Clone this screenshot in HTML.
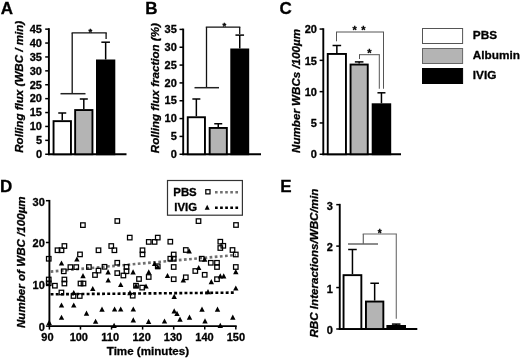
<!DOCTYPE html>
<html><head><meta charset="utf-8"><title>Figure</title>
<style>
html,body{margin:0;padding:0;background:#fff;}
svg{display:block;will-change:transform;}
text{font-family:"Liberation Sans",sans-serif;fill:#000;stroke:#000;stroke-width:0.3px;}
</style></head>
<body>
<svg width="520" height="359" viewBox="0 0 520 359">
<rect x="0" y="0" width="520" height="359" fill="#fff"/>
<text x="0.8" y="13.8" font-size="17" font-weight="bold" text-anchor="start" style="">A</text>
<line x1="48.9" y1="28.2" x2="48.9" y2="155.15" stroke="#000" stroke-width="1.9" />
<line x1="47.949999999999996" y1="154.25" x2="126.5" y2="154.25" stroke="#000" stroke-width="1.9" />
<line x1="45.199999999999996" y1="154.25" x2="48.9" y2="154.25" stroke="#000" stroke-width="1.5" />
<text x="42.0" y="158.05" font-size="11" font-weight="bold" text-anchor="end" style="">0</text>
<line x1="45.199999999999996" y1="140.35" x2="48.9" y2="140.35" stroke="#000" stroke-width="1.5" />
<text x="42.0" y="144.15" font-size="11" font-weight="bold" text-anchor="end" style="">5</text>
<line x1="45.199999999999996" y1="126.45" x2="48.9" y2="126.45" stroke="#000" stroke-width="1.5" />
<text x="42.0" y="130.25" font-size="11" font-weight="bold" text-anchor="end" style="">10</text>
<line x1="45.199999999999996" y1="112.55000000000001" x2="48.9" y2="112.55000000000001" stroke="#000" stroke-width="1.5" />
<text x="42.0" y="116.35000000000002" font-size="11" font-weight="bold" text-anchor="end" style="">15</text>
<line x1="45.199999999999996" y1="98.65" x2="48.9" y2="98.65" stroke="#000" stroke-width="1.5" />
<text x="42.0" y="102.45000000000002" font-size="11" font-weight="bold" text-anchor="end" style="">20</text>
<line x1="45.199999999999996" y1="84.75" x2="48.9" y2="84.75" stroke="#000" stroke-width="1.5" />
<text x="42.0" y="88.55000000000001" font-size="11" font-weight="bold" text-anchor="end" style="">25</text>
<line x1="45.199999999999996" y1="70.85000000000001" x2="48.9" y2="70.85000000000001" stroke="#000" stroke-width="1.5" />
<text x="42.0" y="74.65000000000002" font-size="11" font-weight="bold" text-anchor="end" style="">30</text>
<line x1="45.199999999999996" y1="56.95" x2="48.9" y2="56.95" stroke="#000" stroke-width="1.5" />
<text x="42.0" y="60.75" font-size="11" font-weight="bold" text-anchor="end" style="">35</text>
<line x1="45.199999999999996" y1="43.05000000000001" x2="48.9" y2="43.05000000000001" stroke="#000" stroke-width="1.5" />
<text x="42.0" y="46.85000000000001" font-size="11" font-weight="bold" text-anchor="end" style="">40</text>
<line x1="45.199999999999996" y1="29.150000000000006" x2="48.9" y2="29.150000000000006" stroke="#000" stroke-width="1.5" />
<text x="42.0" y="32.95" font-size="11" font-weight="bold" text-anchor="end" style="">45</text>
<line x1="62.25" y1="120.2" x2="62.25" y2="113" stroke="#000" stroke-width="1.5" />
<line x1="58.25" y1="113" x2="66.25" y2="113" stroke="#000" stroke-width="1.5" />
<rect x="53.550000000000004" y="121.15" width="17.4" height="33.1" fill="#fff" stroke="#000" stroke-width="1.9"/>
<line x1="83.80000000000001" y1="109.1" x2="83.80000000000001" y2="99" stroke="#000" stroke-width="1.5" />
<line x1="79.80000000000001" y1="99" x2="87.80000000000001" y2="99" stroke="#000" stroke-width="1.5" />
<rect x="75.15" y="110.05" width="17.3" height="44.2" fill="#b4b4b4" stroke="#000" stroke-width="1.9"/>
<line x1="105.65" y1="59.5" x2="105.65" y2="42.2" stroke="#000" stroke-width="1.5" />
<line x1="101.35000000000001" y1="42.2" x2="109.95" y2="42.2" stroke="#000" stroke-width="1.5" />
<rect x="96.95" y="60.45" width="17.4" height="93.8" fill="#000" stroke="#000" stroke-width="1.9"/>
<line x1="71.6" y1="32.9" x2="106.8" y2="32.9" stroke="#111" stroke-width="1.4" />
<line x1="72.2" y1="32.9" x2="72.2" y2="93.7" stroke="#111" stroke-width="1.3" />
<line x1="106.1" y1="32.9" x2="106.1" y2="39" stroke="#111" stroke-width="1.3" />
<line x1="60.5" y1="93.7" x2="85.5" y2="93.7" stroke="#222" stroke-width="1.5" />
<text x="90.3" y="35" font-size="9.5" font-weight="bold" text-anchor="middle" style="">*</text>
<text x="23" y="152.8" font-size="11.6" font-weight="bold" text-anchor="start" transform="rotate(-90 23 152.8)" style="font-style:italic">Rolling flux (WBC / min)</text>
<text x="145.3" y="13.6" font-size="17" font-weight="bold" text-anchor="start" style="">B</text>
<line x1="183.2" y1="28.599999999999998" x2="183.2" y2="155.15" stroke="#000" stroke-width="1.9" />
<line x1="182.25" y1="154.25" x2="261" y2="154.25" stroke="#000" stroke-width="1.9" />
<line x1="179.5" y1="154.25" x2="183.2" y2="154.25" stroke="#000" stroke-width="1.5" />
<text x="176.85" y="157.85" font-size="11" font-weight="bold" text-anchor="end" style="">0</text>
<line x1="179.5" y1="136.415" x2="183.2" y2="136.415" stroke="#000" stroke-width="1.5" />
<text x="176.85" y="140.015" font-size="11" font-weight="bold" text-anchor="end" style="">5</text>
<line x1="179.5" y1="118.58" x2="183.2" y2="118.58" stroke="#000" stroke-width="1.5" />
<text x="176.85" y="122.18" font-size="11" font-weight="bold" text-anchor="end" style="">10</text>
<line x1="179.5" y1="100.745" x2="183.2" y2="100.745" stroke="#000" stroke-width="1.5" />
<text x="176.85" y="104.34500000000001" font-size="11" font-weight="bold" text-anchor="end" style="">15</text>
<line x1="179.5" y1="82.91" x2="183.2" y2="82.91" stroke="#000" stroke-width="1.5" />
<text x="176.85" y="86.51" font-size="11" font-weight="bold" text-anchor="end" style="">20</text>
<line x1="179.5" y1="65.07499999999999" x2="183.2" y2="65.07499999999999" stroke="#000" stroke-width="1.5" />
<text x="176.85" y="68.675" font-size="11" font-weight="bold" text-anchor="end" style="">25</text>
<line x1="179.5" y1="47.239999999999995" x2="183.2" y2="47.239999999999995" stroke="#000" stroke-width="1.5" />
<text x="176.85" y="50.839999999999996" font-size="11" font-weight="bold" text-anchor="end" style="">30</text>
<line x1="179.5" y1="29.405" x2="183.2" y2="29.405" stroke="#000" stroke-width="1.5" />
<text x="176.85" y="33.005" font-size="11" font-weight="bold" text-anchor="end" style="">35</text>
<line x1="196.35000000000002" y1="116.3" x2="196.35000000000002" y2="99" stroke="#000" stroke-width="1.5" />
<line x1="192.35000000000002" y1="99" x2="200.35000000000002" y2="99" stroke="#000" stroke-width="1.5" />
<rect x="187.75" y="117.25" width="17.2" height="37.0" fill="#fff" stroke="#000" stroke-width="1.9"/>
<line x1="218.25" y1="127" x2="218.25" y2="123.75" stroke="#000" stroke-width="1.5" />
<line x1="214.25" y1="123.75" x2="222.25" y2="123.75" stroke="#000" stroke-width="1.5" />
<rect x="209.64999999999998" y="127.95" width="17.2" height="26.3" fill="#b4b4b4" stroke="#000" stroke-width="1.9"/>
<line x1="239.75" y1="48.5" x2="239.75" y2="35.1" stroke="#000" stroke-width="1.5" />
<line x1="235.45" y1="35.1" x2="244.05" y2="35.1" stroke="#000" stroke-width="1.5" />
<rect x="231.25" y="49.45" width="17.0" height="104.8" fill="#000" stroke="#000" stroke-width="1.9"/>
<line x1="205.8" y1="27.1" x2="240.3" y2="27.1" stroke="#111" stroke-width="1.4" />
<line x1="206.5" y1="27.1" x2="206.5" y2="87.7" stroke="#111" stroke-width="1.3" />
<line x1="239.7" y1="27.1" x2="239.7" y2="34" stroke="#111" stroke-width="1.3" />
<line x1="194.5" y1="87.7" x2="219" y2="87.7" stroke="#222" stroke-width="1.5" />
<text x="224.3" y="29.3" font-size="9.5" font-weight="bold" text-anchor="middle" style="">*</text>
<text x="159" y="153.2" font-size="11.6" font-weight="bold" text-anchor="start" transform="rotate(-90 159 153.2)" style="font-style:italic">Rolling flux fraction (%)</text>
<text x="279.6" y="14" font-size="17" font-weight="bold" text-anchor="start" style="">C</text>
<line x1="323.3" y1="28.25" x2="323.3" y2="155.15" stroke="#000" stroke-width="1.9" />
<line x1="322.35" y1="154.25" x2="401" y2="154.25" stroke="#000" stroke-width="1.9" />
<line x1="319.6" y1="154.25" x2="323.3" y2="154.25" stroke="#000" stroke-width="1.5" />
<text x="316.95000000000005" y="158.45000000000002" font-size="11" font-weight="bold" text-anchor="end" style="">0</text>
<line x1="319.6" y1="122.95" x2="323.3" y2="122.95" stroke="#000" stroke-width="1.5" />
<text x="316.95000000000005" y="127.15" font-size="11" font-weight="bold" text-anchor="end" style="">5</text>
<line x1="319.6" y1="91.65" x2="323.3" y2="91.65" stroke="#000" stroke-width="1.5" />
<text x="316.95000000000005" y="95.85000000000001" font-size="11" font-weight="bold" text-anchor="end" style="">10</text>
<line x1="319.6" y1="60.35000000000001" x2="323.3" y2="60.35000000000001" stroke="#000" stroke-width="1.5" />
<text x="316.95000000000005" y="64.55000000000001" font-size="11" font-weight="bold" text-anchor="end" style="">15</text>
<line x1="319.6" y1="29.05000000000001" x2="323.3" y2="29.05000000000001" stroke="#000" stroke-width="1.5" />
<text x="316.95000000000005" y="33.25000000000001" font-size="11" font-weight="bold" text-anchor="end" style="">20</text>
<line x1="336.85" y1="53" x2="336.85" y2="45.5" stroke="#000" stroke-width="1.5" />
<line x1="332.55" y1="45.5" x2="341.15000000000003" y2="45.5" stroke="#000" stroke-width="1.5" />
<rect x="327.75" y="53.95" width="18.2" height="100.3" fill="#fff" stroke="#000" stroke-width="1.9"/>
<line x1="359.15" y1="63.6" x2="359.15" y2="61.9" stroke="#000" stroke-width="1.5" />
<line x1="354.84999999999997" y1="61.9" x2="363.45" y2="61.9" stroke="#000" stroke-width="1.5" />
<rect x="350.55" y="64.55" width="17.2" height="89.7" fill="#b4b4b4" stroke="#000" stroke-width="1.9"/>
<line x1="381.45" y1="103.3" x2="381.45" y2="92.8" stroke="#000" stroke-width="1.5" />
<line x1="377.45" y1="92.8" x2="385.45" y2="92.8" stroke="#000" stroke-width="1.5" />
<rect x="372.65" y="104.25" width="17.6" height="50.0" fill="#000" stroke="#000" stroke-width="1.9"/>
<line x1="336" y1="32" x2="384" y2="32" stroke="#555" stroke-width="1" />
<line x1="336.5" y1="32" x2="336.5" y2="41.3" stroke="#555" stroke-width="1" />
<line x1="383.5" y1="32" x2="383.5" y2="88.75" stroke="#555" stroke-width="1" />
<line x1="359" y1="54.7" x2="379.8" y2="54.7" stroke="#555" stroke-width="1" />
<line x1="359.5" y1="54.7" x2="359.5" y2="59" stroke="#555" stroke-width="1" />
<line x1="379.3" y1="54.7" x2="379.3" y2="88.75" stroke="#555" stroke-width="1" />
<text x="354.7" y="34.3" font-size="11" font-weight="bold" text-anchor="middle" style="">*</text>
<text x="363.3" y="34.3" font-size="11" font-weight="bold" text-anchor="middle" style="">*</text>
<text x="369.5" y="56.8" font-size="11" font-weight="bold" text-anchor="middle" style="">*</text>
<text x="299.8" y="152.9" font-size="11.6" font-weight="bold" text-anchor="start" transform="rotate(-90 299.8 152.9)" style="font-style:italic">Number WBCs /100µm</text>
<rect x="422.5" y="28.5" width="40.1" height="15.0" fill="#fff" stroke="#555" stroke-width="1"/>
<rect x="422.5" y="48.5" width="40.1" height="15.0" fill="#b4b4b4" stroke="#666" stroke-width="1"/>
<rect x="422.5" y="68.5" width="40.1" height="15.0" fill="#000" stroke="#000" stroke-width="1"/>
<text x="472.8" y="39.4" font-size="11.8" font-weight="bold" text-anchor="start" style="">PBS</text>
<text x="472.8" y="59.4" font-size="11.8" font-weight="bold" text-anchor="start" style="">Albumin</text>
<text x="472.8" y="79.4" font-size="11.8" font-weight="bold" text-anchor="start" style="">IVIG</text>
<text x="0" y="191.6" font-size="17" font-weight="bold" text-anchor="start" style="">D</text>
<line x1="49.4" y1="199.90000000000003" x2="49.4" y2="327.0" stroke="#000" stroke-width="1.9" />
<line x1="48.449999999999996" y1="326.1" x2="236.7" y2="326.1" stroke="#000" stroke-width="1.9" />
<line x1="45.9" y1="326.1" x2="49.4" y2="326.1" stroke="#000" stroke-width="1.5" />
<text x="44.8" y="330.95000000000005" font-size="11" font-weight="bold" text-anchor="end" style="">0</text>
<line x1="45.9" y1="284.3" x2="49.4" y2="284.3" stroke="#000" stroke-width="1.5" />
<text x="44.8" y="289.15000000000003" font-size="11" font-weight="bold" text-anchor="end" style="">10</text>
<line x1="45.9" y1="242.50000000000003" x2="49.4" y2="242.50000000000003" stroke="#000" stroke-width="1.5" />
<text x="44.8" y="247.35000000000002" font-size="11" font-weight="bold" text-anchor="end" style="">20</text>
<line x1="45.9" y1="200.70000000000005" x2="49.4" y2="200.70000000000005" stroke="#000" stroke-width="1.5" />
<text x="44.8" y="205.55000000000004" font-size="11" font-weight="bold" text-anchor="end" style="">30</text>
<line x1="49.4" y1="326.1" x2="49.4" y2="329.6" stroke="#000" stroke-width="1.5" />
<text x="47.4" y="341.3" font-size="11" font-weight="bold" text-anchor="middle" style="">90</text>
<line x1="80.47" y1="326.1" x2="80.47" y2="329.6" stroke="#000" stroke-width="1.5" />
<text x="78.81" y="341.3" font-size="11" font-weight="bold" text-anchor="middle" style="">100</text>
<line x1="111.53999999999999" y1="326.1" x2="111.53999999999999" y2="329.6" stroke="#000" stroke-width="1.5" />
<text x="110.22" y="341.3" font-size="11" font-weight="bold" text-anchor="middle" style="">110</text>
<line x1="142.61" y1="326.1" x2="142.61" y2="329.6" stroke="#000" stroke-width="1.5" />
<text x="141.63000000000002" y="341.3" font-size="11" font-weight="bold" text-anchor="middle" style="">120</text>
<line x1="173.68" y1="326.1" x2="173.68" y2="329.6" stroke="#000" stroke-width="1.5" />
<text x="173.04000000000002" y="341.3" font-size="11" font-weight="bold" text-anchor="middle" style="">130</text>
<line x1="204.75000000000003" y1="326.1" x2="204.75000000000003" y2="329.6" stroke="#000" stroke-width="1.5" />
<text x="204.45000000000002" y="341.3" font-size="11" font-weight="bold" text-anchor="middle" style="">140</text>
<line x1="235.82000000000002" y1="326.1" x2="235.82000000000002" y2="329.6" stroke="#000" stroke-width="1.5" />
<text x="235.86" y="341.3" font-size="11" font-weight="bold" text-anchor="middle" style="">150</text>
<text x="147.9" y="355.2" font-size="11.6" font-weight="bold" text-anchor="middle" style="">Time (minutes)</text>
<text x="24.6" y="328" font-size="11.6" font-weight="bold" text-anchor="start" transform="rotate(-90 24.6 328)" style="font-style:italic">Number of WBC /100µm</text>
<line x1="50.6" y1="271.6" x2="236" y2="255" stroke="#707070" stroke-width="2.6" stroke-dasharray="2.7 2.45"/>
<line x1="50.6" y1="294.3" x2="236" y2="292.6" stroke="#000" stroke-width="2.6" stroke-dasharray="2.9 2.25"/>
<path d="M58.8 265.6L64.2 265.6L61.5 260.4Z" fill="#000"/>
<path d="M74.2 261.6L79.6 261.6L76.9 256.4Z" fill="#000"/>
<path d="M80.3 278.2L85.7 278.2L83 273.0Z" fill="#000"/>
<path d="M90.05 291.1L95.45 291.1L92.75 285.9Z" fill="#000"/>
<path d="M71.05 295.1L76.45 295.1L73.75 289.9Z" fill="#000"/>
<path d="M58.8 307.6L64.2 307.6L61.5 302.4Z" fill="#000"/>
<path d="M71.05 307.6L76.45 307.6L73.75 302.4Z" fill="#000"/>
<path d="M58.8 319.85L64.2 319.85L61.5 314.65Z" fill="#000"/>
<path d="M83.8 315.7L89.2 315.7L86.5 310.5Z" fill="#000"/>
<path d="M99.3 311.8L104.7 311.8L102 306.6Z" fill="#000"/>
<path d="M92.9 323.85L98.3 323.85L95.6 318.65Z" fill="#000"/>
<path d="M46.5 324.9L51.9 324.9L49.2 319.7Z" fill="#000"/>
<path d="M105.4 274.5L110.8 274.5L108.1 269.3Z" fill="#000"/>
<path d="M130.4 274.5L135.8 274.5L133.1 269.3Z" fill="#000"/>
<path d="M146.05 274.5L151.45 274.5L148.75 269.3Z" fill="#000"/>
<path d="M151.9 266.1L157.3 266.1L154.6 260.9Z" fill="#000"/>
<path d="M155.05 269.2L160.45 269.2L157.75 264.0Z" fill="#000"/>
<path d="M105.5 282.6L110.9 282.6L108.2 277.4Z" fill="#000"/>
<path d="M118.0 287.1L123.4 287.1L120.7 281.9Z" fill="#000"/>
<path d="M133.3 288.3L138.7 288.3L136 283.1Z" fill="#000"/>
<path d="M143.3 288.6L148.7 288.6L146 283.4Z" fill="#000"/>
<path d="M127.3 295.2L132.7 295.2L130 290.0Z" fill="#000"/>
<path d="M111.9 311.6L117.3 311.6L114.6 306.4Z" fill="#000"/>
<path d="M118.0 311.6L123.4 311.6L120.7 306.4Z" fill="#000"/>
<path d="M130.6 311.6L136.0 311.6L133.3 306.4Z" fill="#000"/>
<path d="M130.6 322.4L136.0 322.4L133.3 317.2Z" fill="#000"/>
<path d="M145.9 323.9L151.3 323.9L148.6 318.7Z" fill="#000"/>
<path d="M161.8 323.6L167.2 323.6L164.5 318.4Z" fill="#000"/>
<path d="M111.4 328.0L116.8 328.0L114.1 322.8Z" fill="#000"/>
<path d="M186.5 253.4L191.9 253.4L189.2 248.2Z" fill="#000"/>
<path d="M202.0 261.8L207.4 261.8L204.7 256.6Z" fill="#000"/>
<path d="M196.0 270.1L201.4 270.1L198.7 264.9Z" fill="#000"/>
<path d="M233.1 274.3L238.5 274.3L235.8 269.1Z" fill="#000"/>
<path d="M164.8 278.1L170.2 278.1L167.5 272.9Z" fill="#000"/>
<path d="M217.6 278.4L223.0 278.4L220.3 273.2Z" fill="#000"/>
<path d="M221.0 278.4L226.4 278.4L223.7 273.2Z" fill="#000"/>
<path d="M180.6 282.6L186.0 282.6L183.3 277.4Z" fill="#000"/>
<path d="M208.6 284.3L214.0 284.3L211.3 279.1Z" fill="#000"/>
<path d="M233.1 290.6L238.5 290.6L235.8 285.4Z" fill="#000"/>
<path d="M205.3 294.3L210.7 294.3L208 289.1Z" fill="#000"/>
<path d="M171.5 298.9L176.9 298.9L174.2 293.7Z" fill="#000"/>
<path d="M171.5 313.4L176.9 313.4L174.2 308.2Z" fill="#000"/>
<path d="M174.3 315.9L179.7 315.9L177 310.7Z" fill="#000"/>
<path d="M199.3 311.8L204.7 311.8L202 306.6Z" fill="#000"/>
<path d="M214.8 311.8L220.2 311.8L217.5 306.6Z" fill="#000"/>
<path d="M177.3 321.8L182.7 321.8L180 316.6Z" fill="#000"/>
<path d="M186.8 319.8L192.2 319.8L189.5 314.6Z" fill="#000"/>
<path d="M230.1 319.8L235.5 319.8L232.8 314.6Z" fill="#000"/>
<path d="M202.3 323.4L207.7 323.4L205 318.2Z" fill="#000"/>
<path d="M217.6 328.0L223.0 328.0L220.3 322.8Z" fill="#000"/>
<rect x="46.5" y="256.5" width="4.5" height="4.5" fill="none" stroke="#000" stroke-width="1.25"/>
<rect x="46.5" y="277.25" width="4.5" height="4.5" fill="none" stroke="#000" stroke-width="1.25"/>
<rect x="46.5" y="281.05" width="4.5" height="4.5" fill="none" stroke="#000" stroke-width="1.25"/>
<rect x="55.25" y="248.0" width="4.5" height="4.5" fill="none" stroke="#000" stroke-width="1.25"/>
<rect x="59.25" y="248.0" width="4.5" height="4.5" fill="none" stroke="#000" stroke-width="1.25"/>
<rect x="62.15" y="243.75" width="4.5" height="4.5" fill="none" stroke="#000" stroke-width="1.25"/>
<rect x="77.75" y="252.15" width="4.5" height="4.5" fill="none" stroke="#000" stroke-width="1.25"/>
<rect x="96.25" y="248.0" width="4.5" height="4.5" fill="none" stroke="#000" stroke-width="1.25"/>
<rect x="61.5" y="269.05" width="4.5" height="4.5" fill="none" stroke="#000" stroke-width="1.25"/>
<rect x="68.15" y="264.85" width="4.5" height="4.5" fill="none" stroke="#000" stroke-width="1.25"/>
<rect x="74.0" y="264.85" width="4.5" height="4.5" fill="none" stroke="#000" stroke-width="1.25"/>
<rect x="86.65" y="264.75" width="4.5" height="4.5" fill="none" stroke="#000" stroke-width="1.25"/>
<rect x="96.25" y="268.35" width="4.5" height="4.5" fill="none" stroke="#000" stroke-width="1.25"/>
<rect x="92.75" y="272.75" width="4.5" height="4.5" fill="none" stroke="#000" stroke-width="1.25"/>
<rect x="102.25" y="264.55" width="4.5" height="4.5" fill="none" stroke="#000" stroke-width="1.25"/>
<rect x="62.15" y="277.25" width="4.5" height="4.5" fill="none" stroke="#000" stroke-width="1.25"/>
<rect x="62.15" y="281.25" width="4.5" height="4.5" fill="none" stroke="#000" stroke-width="1.25"/>
<rect x="52.65" y="283.45" width="4.5" height="4.5" fill="none" stroke="#000" stroke-width="1.25"/>
<rect x="78.25" y="281.25" width="4.5" height="4.5" fill="none" stroke="#000" stroke-width="1.25"/>
<rect x="81.25" y="281.25" width="4.5" height="4.5" fill="none" stroke="#000" stroke-width="1.25"/>
<rect x="59.15" y="290.25" width="4.5" height="4.5" fill="none" stroke="#000" stroke-width="1.25"/>
<rect x="71.25" y="293.75" width="4.5" height="4.5" fill="none" stroke="#000" stroke-width="1.25"/>
<rect x="77.5" y="293.75" width="4.5" height="4.5" fill="none" stroke="#000" stroke-width="1.25"/>
<rect x="80.65" y="222.85" width="4.5" height="4.5" fill="none" stroke="#000" stroke-width="1.25"/>
<rect x="115.05" y="218.75" width="4.5" height="4.5" fill="none" stroke="#000" stroke-width="1.25"/>
<rect x="127.5" y="235.35" width="4.5" height="4.5" fill="none" stroke="#000" stroke-width="1.25"/>
<rect x="155.5" y="235.35" width="4.5" height="4.5" fill="none" stroke="#000" stroke-width="1.25"/>
<rect x="146.5" y="239.65" width="4.5" height="4.5" fill="none" stroke="#000" stroke-width="1.25"/>
<rect x="152.35" y="239.65" width="4.5" height="4.5" fill="none" stroke="#000" stroke-width="1.25"/>
<rect x="109.0" y="243.75" width="4.5" height="4.5" fill="none" stroke="#000" stroke-width="1.25"/>
<rect x="112.15" y="248.0" width="4.5" height="4.5" fill="none" stroke="#000" stroke-width="1.25"/>
<rect x="140.25" y="248.0" width="4.5" height="4.5" fill="none" stroke="#000" stroke-width="1.25"/>
<rect x="140.25" y="252.15" width="4.5" height="4.5" fill="none" stroke="#000" stroke-width="1.25"/>
<rect x="115.0" y="260.5" width="4.5" height="4.5" fill="none" stroke="#000" stroke-width="1.25"/>
<rect x="124.25" y="264.65" width="4.5" height="4.5" fill="none" stroke="#000" stroke-width="1.25"/>
<rect x="124.25" y="269.0" width="4.5" height="4.5" fill="none" stroke="#000" stroke-width="1.25"/>
<rect x="115.0" y="270.85" width="4.5" height="4.5" fill="none" stroke="#000" stroke-width="1.25"/>
<rect x="121.15" y="273.25" width="4.5" height="4.5" fill="none" stroke="#000" stroke-width="1.25"/>
<rect x="155.5" y="264.0" width="4.5" height="4.5" fill="none" stroke="#000" stroke-width="1.25"/>
<rect x="146.45" y="274.75" width="4.5" height="4.5" fill="none" stroke="#000" stroke-width="1.25"/>
<rect x="136.75" y="276.75" width="4.5" height="4.5" fill="none" stroke="#000" stroke-width="1.25"/>
<rect x="133.75" y="283.45" width="4.5" height="4.5" fill="none" stroke="#000" stroke-width="1.25"/>
<rect x="139.95" y="285.35" width="4.5" height="4.5" fill="none" stroke="#000" stroke-width="1.25"/>
<rect x="130.45" y="293.45" width="4.5" height="4.5" fill="none" stroke="#000" stroke-width="1.25"/>
<rect x="196.25" y="218.85" width="4.5" height="4.5" fill="none" stroke="#000" stroke-width="1.25"/>
<rect x="233.75" y="222.75" width="4.5" height="4.5" fill="none" stroke="#000" stroke-width="1.25"/>
<rect x="168.05" y="239.45" width="4.5" height="4.5" fill="none" stroke="#000" stroke-width="1.25"/>
<rect x="218.05" y="239.45" width="4.5" height="4.5" fill="none" stroke="#000" stroke-width="1.25"/>
<rect x="221.05" y="243.55" width="4.5" height="4.5" fill="none" stroke="#000" stroke-width="1.25"/>
<rect x="218.05" y="245.75" width="4.5" height="4.5" fill="none" stroke="#000" stroke-width="1.25"/>
<rect x="183.55" y="247.75" width="4.5" height="4.5" fill="none" stroke="#000" stroke-width="1.25"/>
<rect x="230.25" y="247.75" width="4.5" height="4.5" fill="none" stroke="#000" stroke-width="1.25"/>
<rect x="233.55" y="252.25" width="4.5" height="4.5" fill="none" stroke="#000" stroke-width="1.25"/>
<rect x="171.45" y="252.25" width="4.5" height="4.5" fill="none" stroke="#000" stroke-width="1.25"/>
<rect x="168.05" y="256.45" width="4.5" height="4.5" fill="none" stroke="#000" stroke-width="1.25"/>
<rect x="171.45" y="256.45" width="4.5" height="4.5" fill="none" stroke="#000" stroke-width="1.25"/>
<rect x="199.45" y="256.45" width="4.5" height="4.5" fill="none" stroke="#000" stroke-width="1.25"/>
<rect x="208.55" y="260.55" width="4.5" height="4.5" fill="none" stroke="#000" stroke-width="1.25"/>
<rect x="214.75" y="260.55" width="4.5" height="4.5" fill="none" stroke="#000" stroke-width="1.25"/>
<rect x="214.75" y="264.75" width="4.5" height="4.5" fill="none" stroke="#000" stroke-width="1.25"/>
<rect x="171.45" y="264.75" width="4.5" height="4.5" fill="none" stroke="#000" stroke-width="1.25"/>
<rect x="233.55" y="264.75" width="4.5" height="4.5" fill="none" stroke="#000" stroke-width="1.25"/>
<rect x="193.05" y="268.75" width="4.5" height="4.5" fill="none" stroke="#000" stroke-width="1.25"/>
<rect x="202.45" y="272.55" width="4.5" height="4.5" fill="none" stroke="#000" stroke-width="1.25"/>
<rect x="183.55" y="275.05" width="4.5" height="4.5" fill="none" stroke="#000" stroke-width="1.25"/>
<rect x="171.45" y="276.95" width="4.5" height="4.5" fill="none" stroke="#000" stroke-width="1.25"/>
<rect x="214.75" y="276.95" width="4.5" height="4.5" fill="none" stroke="#000" stroke-width="1.25"/>
<rect x="167.5" y="180.5" width="74.9" height="34.7" fill="#fff" stroke="#333" stroke-width="1.2"/>
<text x="173.3" y="196.3" font-size="11.4" font-weight="bold" text-anchor="start" style="">PBS</text>
<text x="174.3" y="210.9" font-size="11.4" font-weight="bold" text-anchor="start" style="">IVIG</text>
<rect x="205.8" y="189.7" width="4.2" height="4.2" fill="none" stroke="#000" stroke-width="1.25"/>
<path d="M204.7 209.7L209.7 209.7L207.2 204.7Z" fill="#000"/>
<line x1="215" y1="192.3" x2="238.2" y2="192.3" stroke="#707070" stroke-width="2.4" stroke-dasharray="2.6 2.5"/>
<line x1="215" y1="207.7" x2="238.2" y2="207.7" stroke="#000" stroke-width="2.4" stroke-dasharray="2.7 2.4"/>
<text x="280.3" y="192.1" font-size="17" font-weight="bold" text-anchor="start" style="">E</text>
<line x1="339.75" y1="203.84999999999997" x2="339.75" y2="329.9" stroke="#000" stroke-width="1.9" />
<line x1="338.8" y1="329" x2="417.3" y2="329" stroke="#000" stroke-width="1.9" />
<line x1="336.25" y1="329.0" x2="339.75" y2="329.0" stroke="#000" stroke-width="1.5" />
<text x="332.75" y="334.3" font-size="11" font-weight="bold" text-anchor="end" style="">0</text>
<line x1="336.25" y1="287.55" x2="339.75" y2="287.55" stroke="#000" stroke-width="1.5" />
<text x="332.75" y="292.85" font-size="11" font-weight="bold" text-anchor="end" style="">1</text>
<line x1="336.25" y1="246.1" x2="339.75" y2="246.1" stroke="#000" stroke-width="1.5" />
<text x="332.75" y="251.4" font-size="11" font-weight="bold" text-anchor="end" style="">2</text>
<line x1="336.25" y1="204.64999999999998" x2="339.75" y2="204.64999999999998" stroke="#000" stroke-width="1.5" />
<text x="332.75" y="209.95" font-size="11" font-weight="bold" text-anchor="end" style="">3</text>
<line x1="352.45000000000005" y1="274.2" x2="352.45000000000005" y2="249.5" stroke="#000" stroke-width="1.5" />
<line x1="348.15000000000003" y1="249.5" x2="356.75000000000006" y2="249.5" stroke="#000" stroke-width="1.5" />
<rect x="343.55" y="275.15" width="17.8" height="53.85" fill="#fff" stroke="#000" stroke-width="1.9"/>
<line x1="374.65" y1="300.6" x2="374.65" y2="283.25" stroke="#000" stroke-width="1.5" />
<line x1="370.34999999999997" y1="283.25" x2="378.95" y2="283.25" stroke="#000" stroke-width="1.5" />
<rect x="365.95" y="301.55" width="17.4" height="27.45" fill="#b4b4b4" stroke="#000" stroke-width="1.9"/>
<line x1="396.2" y1="325" x2="396.2" y2="324.1" stroke="#000" stroke-width="1.5" />
<line x1="391.9" y1="324.1" x2="400.5" y2="324.1" stroke="#000" stroke-width="1.5" />
<rect x="387.34999999999997" y="325.95" width="17.7" height="3.05" fill="#000" stroke="#000" stroke-width="1.9"/>
<line x1="348" y1="244" x2="378" y2="244" stroke="#666" stroke-width="1.5" />
<line x1="363.3" y1="244" x2="363.3" y2="234" stroke="#666" stroke-width="1.2" />
<line x1="362.7" y1="234" x2="396.9" y2="234" stroke="#666" stroke-width="1.2" />
<line x1="396.3" y1="234" x2="396.3" y2="318.75" stroke="#777" stroke-width="1.2" />
<text x="379.6" y="236.8" font-size="10" font-weight="bold" text-anchor="middle" style="">*</text>
<text x="318.3" y="337.5" font-size="11.6" font-weight="bold" text-anchor="start" transform="rotate(-90 318.3 337.5)" style="font-style:italic">RBC Interactions/WBC/min</text>
</svg>
</body></html>
